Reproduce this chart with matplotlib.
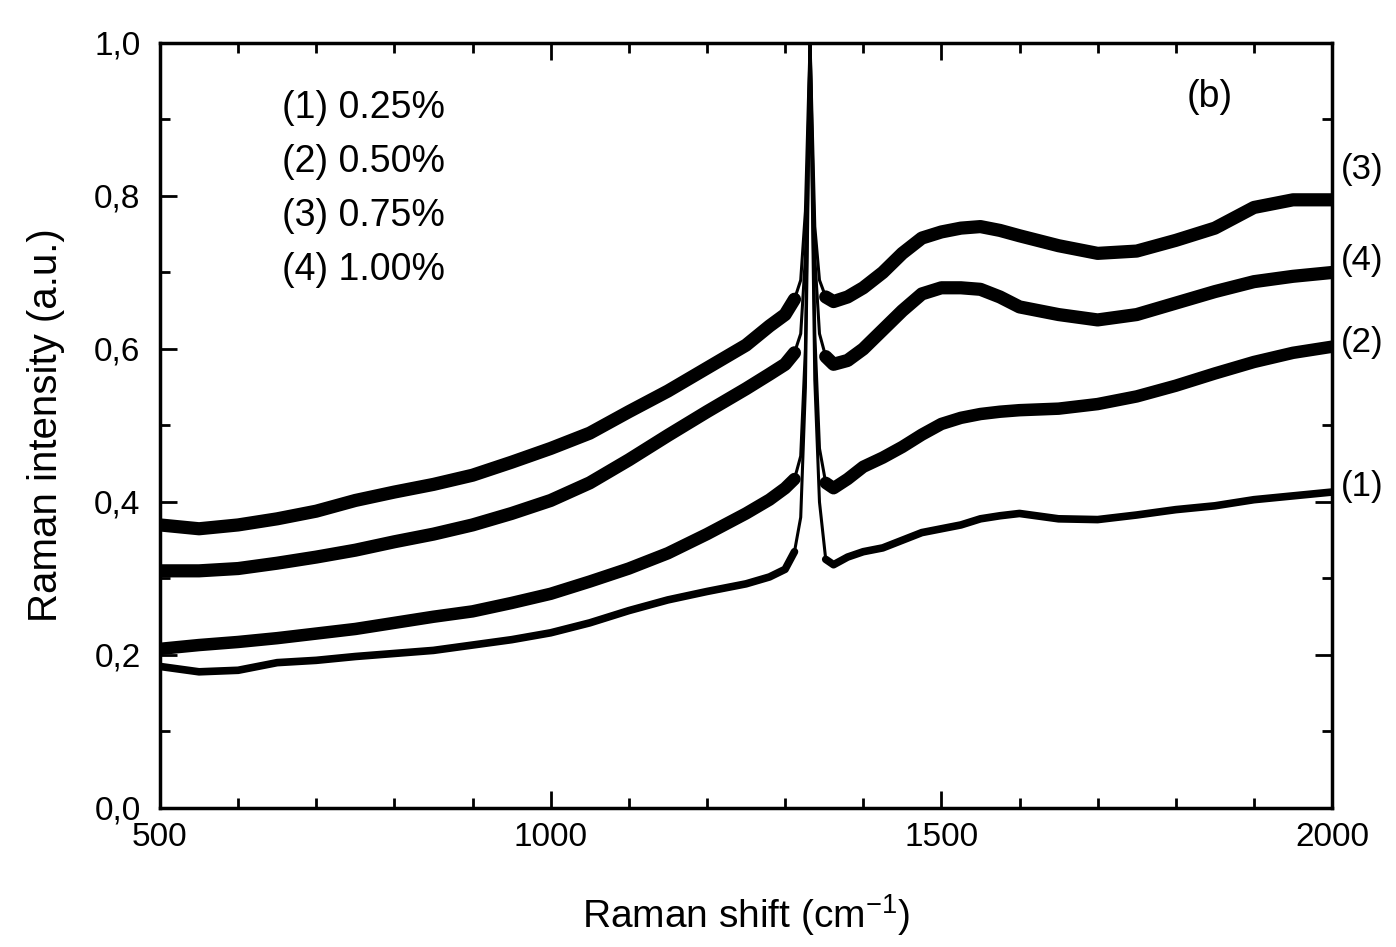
import numpy as np
import matplotlib
matplotlib.use("Agg")
import matplotlib.pyplot as plt
from matplotlib.ticker import MultipleLocator, FuncFormatter

plt.rcParams['font.family'] = ['Liberation Sans', 'DejaVu Sans']

# ---- data ----
shift = [500, 550, 600, 650, 700, 750, 800, 850, 900, 950, 1000, 1050, 1100,
         1150, 1200, 1250, 1280, 1300, 1312, 1320, 1326, 1330, 1332, 1334,
         1338, 1344, 1352, 1362, 1380, 1400, 1425, 1450, 1475, 1500, 1525,
         1550, 1575, 1600, 1650, 1700, 1750, 1800, 1850, 1900, 1950, 2000]

s1_025 = [0.185, 0.178, 0.180, 0.190, 0.193, 0.198, 0.202, 0.206, 0.213, 0.220,
          0.229, 0.242, 0.258, 0.272, 0.283, 0.293, 0.302, 0.312, 0.335, 0.380,
          0.550, 0.850, 0.990, 0.860, 0.560, 0.400, 0.325, 0.318, 0.328, 0.335,
          0.340, 0.350, 0.360, 0.365, 0.370, 0.378, 0.382, 0.385, 0.378, 0.377,
          0.383, 0.390, 0.395, 0.403, 0.408, 0.413]

s2_050 = [0.208, 0.213, 0.217, 0.222, 0.228, 0.234, 0.242, 0.250, 0.257, 0.268,
          0.280, 0.296, 0.313, 0.333, 0.358, 0.385, 0.403, 0.418, 0.430, 0.460,
          0.600, 0.880, 1.000, 0.880, 0.620, 0.470, 0.425, 0.418, 0.430, 0.446,
          0.458, 0.472, 0.488, 0.502, 0.510, 0.515, 0.518, 0.520, 0.522, 0.528,
          0.538, 0.552, 0.568, 0.583, 0.595, 0.603]

s3_075 = [0.370, 0.365, 0.370, 0.378, 0.388, 0.402, 0.413, 0.423, 0.435, 0.452,
          0.470, 0.490, 0.518, 0.545, 0.575, 0.605, 0.630, 0.645, 0.665, 0.690,
          0.780, 0.930, 1.000, 0.920, 0.760, 0.690, 0.668, 0.662, 0.668, 0.680,
          0.700, 0.725, 0.745, 0.753, 0.758, 0.760, 0.755, 0.748, 0.735, 0.725,
          0.728, 0.742, 0.758, 0.785, 0.795, 0.795]

s4_100 = [0.310, 0.310, 0.313, 0.320, 0.328, 0.337, 0.348, 0.358, 0.370, 0.385,
          0.402, 0.425, 0.455, 0.487, 0.518, 0.548, 0.567, 0.580, 0.595, 0.620,
          0.720, 0.900, 1.000, 0.900, 0.720, 0.620, 0.590, 0.580, 0.585, 0.600,
          0.625, 0.650, 0.672, 0.680, 0.680, 0.678, 0.668, 0.655, 0.645, 0.638,
          0.645, 0.660, 0.675, 0.688, 0.695, 0.700]

legend_lines = ["(1) 0.25%", "(2) 0.50%", "(3) 0.75%", "(4) 1.00%"]
end_labels = ["(1)", "(2)", "(3)", "(4)"]

# ---- figure ----
fig = plt.figure(figsize=(13.96, 9.47), dpi=100)
ax = fig.add_axes([0.1146, 0.1468, 0.8396, 0.8078])

x = np.array(shift)
band = (x <= 1312) | (x >= 1352)
series = [s1_025, s2_050, s3_075, s4_100]
widths = [5.5, 9.0, 9.5, 9.5]
for ys, lw in zip(series, widths):
    y = np.array(ys)
    yb = np.where(band, y, np.nan)
    ax.plot(x, yb, color='black', lw=lw, solid_capstyle='round', solid_joinstyle='round')
    ax.plot(x, y, color='black', lw=2.2)

ax.set_xlim(500, 2000)
ax.set_ylim(0, 1.0)
ax.xaxis.set_major_locator(MultipleLocator(500))
ax.xaxis.set_minor_locator(MultipleLocator(100))
ax.yaxis.set_major_locator(MultipleLocator(0.2))
ax.yaxis.set_minor_locator(MultipleLocator(0.1))
ax.yaxis.set_major_formatter(FuncFormatter(lambda v, p: f"{v:.1f}".replace('.', ',')))
ax.tick_params(which='both', direction='in', top=True, right=True, width=2,
               labelsize=24)
ax.tick_params(which='major', length=12)
ax.tick_params(which='minor', length=7)
ax.tick_params(axis='x', pad=10)
ax.tick_params(axis='y', pad=14)
for sp in ax.spines.values():
    sp.set_linewidth(2.5)

ax.set_xlabel("Raman shift (cm$^{\\mathregular{-1}}$)", fontsize=28, labelpad=28)
ax.set_ylabel("Raman intensity (a.u.)", fontsize=29, labelpad=21)

for i, t in enumerate(legend_lines):
    ax.text(0.104, 0.915 - i * 0.0705, t, transform=ax.transAxes, fontsize=27,
            va='center', ha='left')
ax.text(0.896, 0.93, "(b)", transform=ax.transAxes, fontsize=27, va='center', ha='center')

label_y = [0.42, 0.609, 0.834, 0.716]
for t, yy in zip(end_labels, label_y):
    ax.annotate(t, xy=(2000, yy), xytext=(6, 0), textcoords='offset points',
                fontsize=25, va='center', ha='left', annotation_clip=False)

fig.savefig("out.png", dpi=100)
